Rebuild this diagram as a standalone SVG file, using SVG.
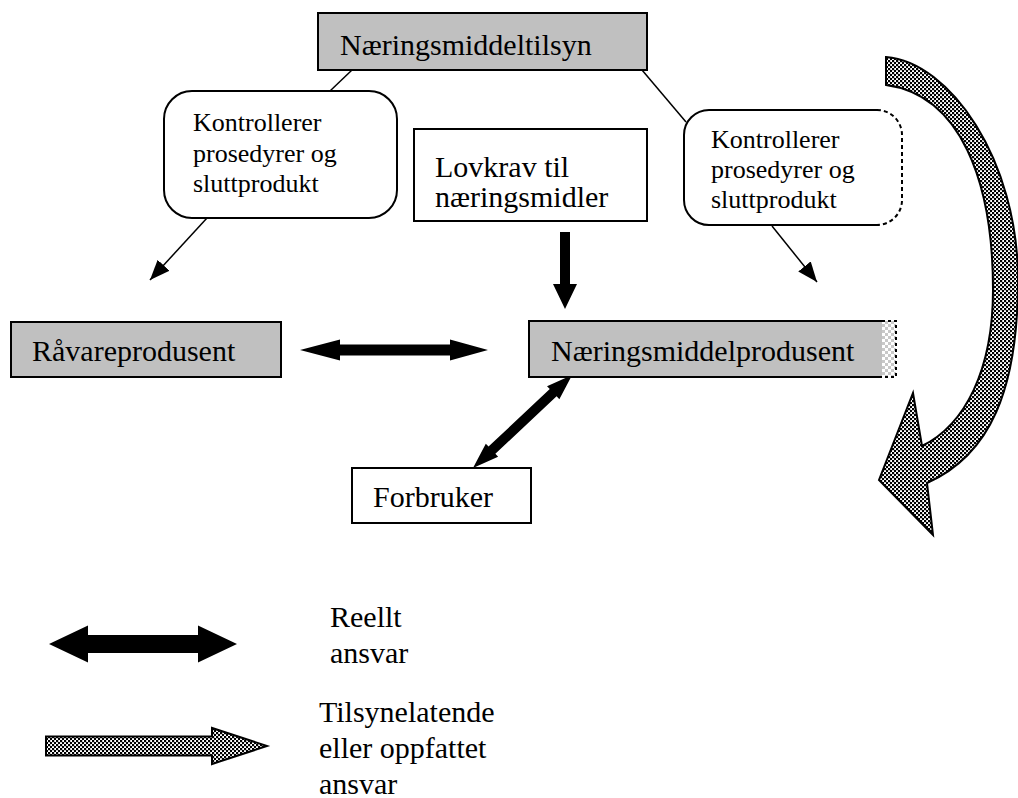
<svg xmlns="http://www.w3.org/2000/svg" width="1018" height="798" viewBox="0 0 1018 798">
<style>
text{font-family:"Liberation Serif","Times New Roman",serif;fill:#000}
.big{font-size:30px}
.small{font-size:26px}
.box{stroke:#000;stroke-width:2}
.gray{fill:#c0c0c0}
.white{fill:#fff}
.thin{stroke:#000;stroke-width:1.5;fill:none}
.solid{fill:#000}
.pat{fill:url(#checker);stroke:#000;stroke-width:2;stroke-linejoin:miter}
</style>
<defs>
<pattern id="checker" width="4" height="4" patternUnits="userSpaceOnUse">
<rect width="4" height="4" fill="#fff"/>
<rect x="0" y="0" width="2.2" height="2.2" fill="#000"/>
<rect x="2" y="2" width="2.2" height="2.2" fill="#000"/>
</pattern>
<pattern id="light" width="6" height="6" patternUnits="userSpaceOnUse">
<rect width="6" height="6" fill="#fff"/>
<rect x="0" y="0" width="3" height="3" fill="#c8c8c8"/>
<rect x="3" y="3" width="3" height="3" fill="#c8c8c8"/>
</pattern>
<marker id="ah" markerWidth="22" markerHeight="18" refX="20" refY="8" orient="auto" markerUnits="userSpaceOnUse">
<path d="M0,0 L20,8 L0,16 z" fill="#000"/>
</marker>
</defs>

<g id="connectors">
<line class="thin" x1="352" y1="70" x2="330" y2="91"/>
<line class="thin" x1="642" y1="70" x2="686" y2="122"/>
<line class="thin" x1="207" y1="218" x2="150" y2="280" marker-end="url(#ah)"/>
<line class="thin" x1="772" y1="226" x2="817" y2="282" marker-end="url(#ah)"/>
<polygon class="solid" points="560,232 570,232 570,284 577,284 565,309 553,284 560,284"/>
<polygon class="solid" points="300,350 340,339.5 340,344.5 450,344.5 450,339.5 488,350 450,360.5 450,355.5 340,355.5 340,360.5"/>
<polygon class="solid" transform="translate(473,468) rotate(-43.2)" points="0,0 26,-9 26,-5 110,-5 110,-9 136,0 110,9 110,5 26,5 26,9"/>
</g>

<g id="curved-arrow">
<path class="pat" d="M886,57 C950,62 1018,160 1018,280 C1018,390 990,455 927,483 L933,535 L879,480 L913,393 L922,446 C965,425 993,370 993,290 C993,180 960,95 886,85 Z"/>
</g>

<g id="naeringsmiddeltilsyn">
<rect class="box gray" x="318" y="13" width="329" height="57"/>
<text class="big" x="340" y="55">Næringsmiddeltilsyn</text>
</g>

<g id="kontroll-left">
<rect class="box white" x="164" y="91" width="233" height="127" rx="28" ry="28"/>
<text class="small" x="193" y="131">Kontrollerer</text>
<text class="small" x="193" y="162">prosedyrer og</text>
<text class="small" x="193" y="192">sluttprodukt</text>
</g>

<g id="lovkrav">
<rect class="box white" x="414" y="129" width="233" height="92"/>
<text class="big" x="435" y="177">Lovkrav til</text>
<text class="big" x="435" y="207">næringsmidler</text>
</g>

<g id="kontroll-right">
<rect x="684" y="110" width="218" height="115" rx="25" ry="25" fill="#fff"/>
<path d="M877,110 H709 A25,25 0 0 0 684,135 V200 A25,25 0 0 0 709,225 H877" fill="none" stroke="#000" stroke-width="2"/>
<path d="M877,110 A25,25 0 0 1 902,135 V200 A25,25 0 0 1 877,225" fill="none" stroke="#000" stroke-width="2" stroke-dasharray="4,3"/>
<text class="small" x="711" y="148">Kontrollerer</text>
<text class="small" x="711" y="178">prosedyrer og</text>
<text class="small" x="711" y="208">sluttprodukt</text>
</g>

<g id="raavareprodusent">
<rect class="box gray" x="11" y="322" width="270" height="55"/>
<text class="big" x="32" y="361">Råvareprodusent</text>
</g>

<g id="naeringsmiddelprodusent">
<rect x="882" y="321" width="14" height="56" fill="url(#light)"/>
<path d="M882,321 H896 V377 H882" fill="none" stroke="#000" stroke-width="2" stroke-dasharray="3,3"/>
<rect x="529" y="321" width="353" height="56" class="gray"/>
<path d="M882,321 H529 V377 H882" fill="none" stroke="#000" stroke-width="2"/>
<text class="big" x="551" y="361">Næringsmiddelprodusent</text>
</g>

<g id="forbruker">
<rect class="box white" x="352" y="468" width="179" height="55"/>
<text class="big" x="373" y="507">Forbruker</text>
</g>

<g id="legend">
<polygon class="solid" points="49,644 88,625.5 88,635 198,635 198,625.5 237,644 198,662.5 198,653 88,653 88,662.5"/>
<text class="big" x="330" y="627">Reellt</text>
<text class="big" x="330" y="663">ansvar</text>
<polygon class="pat" points="46,736.5 212,736.5 212,728 267,746 212,764 212,755.5 46,755.5"/>
<text class="big" x="319" y="722">Tilsynelatende</text>
<text class="big" x="319" y="758">eller oppfattet</text>
<text class="big" x="319" y="794">ansvar</text>
</g>
</svg>
